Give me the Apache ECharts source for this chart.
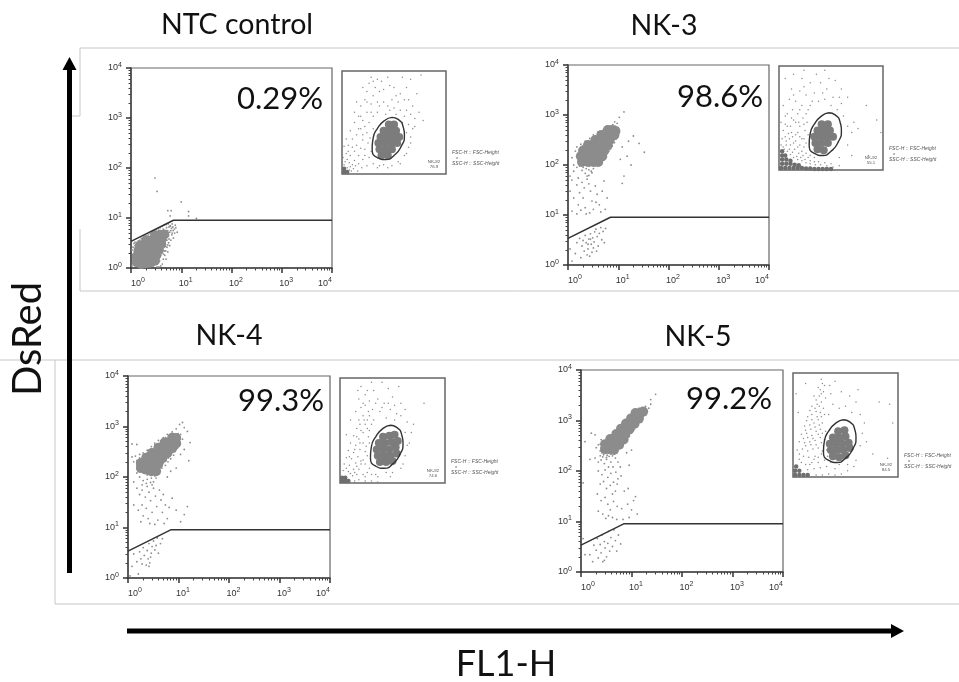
<!DOCTYPE html>
<html><head><meta charset="utf-8"><style>html,body{margin:0;background:#fff}#c{width:959px;height:682px;filter:blur(0.4px)}</style>
<script src="https://cdn.jsdelivr.net/npm/echarts@6/dist/echarts.min.js"></script></head><body><div id="c"></div>
<script>
const sampleNames=['NTC control','NK-3','NK-4','NK-5'];
const positivePercent=['0.29%','98.6%','99.3%','99.2%'];
const lymphocyteGatePercent=['76.9','55.1','74.6','84.5'];
const minorTicks=[2,3,4,5,6,7,8,9,20,30,40,50,60,70,80,90,200,300,400,500,600,700,800,900,2000,3000,4000,5000,6000,7000,8000,9000];
const dsRedGate=[[1,3.4],[7,9],[10000,9]];
const scatterGate=[[48,55],[54,53],[59,45],[60,38],[57,27],[50,18],[42,14],[34,16],[29,24],[30,35],[34,44],[41,52],[48,55]];

const ntcCore=[[1.3,1.3],[1.6,1.2],[2,1.25],[2.5,1.3],[3,1.4],[1.3,1.7],[1.7,1.7],[2.1,1.7],[2.6,1.7],[3.2,1.8],[1.4,2.2],[1.8,2.3],[2.3,2.2],[2.9,2.2],[3.6,2.3],[1.5,2.8],[2,2.9],[2.6,2.9],[3.3,2.9],[4,3],[2,3.6],[2.7,3.7],[3.4,3.7],[4.1,3.8],[3,4.4],[3.8,4.6],[4.6,4.7]];
const ntcDots=[[1.05,1.1],[1.1,2.6],[1.15,3.1],[1.2,3.3],[1.3,3.2],[1.1,1.5],[1.4,3.5],[1.5,3.6],[1.6,3.9],[1.7,3.6],[1.9,4.2],[2,4.4],[2.2,4.6],[2.4,4.9],[2.6,5.2],[2.8,5.4],[3,5.6],[3.2,5.8],[3.5,6.1],[3.8,6.4],[4.2,6.8],[4.6,7.2],[5,7.4],[5.5,7.6],[6,7],[6.4,6.2],[6.9,5.6],[7.4,5],[6.5,4.6],[7,4],[5.9,5.2],[5.6,4.4],[6.2,3.6],[5.6,3.2],[5.9,2.8],[5.2,2.6],[5.4,2.1],[4.9,2.2],[4.7,1.8],[5,1.5],[4.4,1.5],[4.2,1.2],[3.9,1.1],[3.6,1.05],[3.3,1.05],[4.8,3],[4.4,2.6],[4.2,3.4],[4.6,3.9],[5.2,3.6],[5,4.6],[5.4,5.6],[4.7,5.3],[4.2,5.4],[3.6,4.9],[7.8,6.4],[8.3,5.2],[7.6,7.2],[6.6,7.6],[2.8,1.1],[2.4,1.05],[1.9,1.05],[1.5,1.02],[3,63],[3.3,34],[10,21],[5.4,14],[6.3,14],[14,13.5],[14,11],[20,9.8],[6,11],[1.2,1.2],[2.1,3.9],[2.9,4.9],[3.7,5.6],[4.4,6],[5.1,6.4],[5.7,6.6],[6.2,5.6],[6.6,5],[5.4,4.9],[5.7,3.8],[5.4,2.9],[4.9,2.7],[4.6,2.2],[4.4,1.9],[3.9,1.8],[3.7,1.4],[3.3,1.25],[4.8,4.2],[4.3,4.1],[6.8,6.6],[7.3,6],[6.1,6.8],[3.9,5.3],[3.3,5.1],[2.4,4.2],[1.8,3.2],[1.2,2.8],[1.1,1.9],[1.05,2.3]];

const nk3Core=[[1.9,115],[2.5,115],[3.2,115],[4,115],[1.8,150],[2.3,150],[3,150],[3.8,150],[4.8,150],[2,195],[2.6,195],[3.3,195],[4.2,195],[5.3,195],[2.5,250],[3.2,250],[4,250],[5,250],[6.2,250],[3.5,315],[4.4,315],[5.5,315],[6.8,315],[4.6,400],[5.7,400],[7,400],[8.4,400],[6.2,500],[7.6,500],[8.8,480]];
const nk3Dots=[[1.2,140],[1.3,100],[1.4,190],[1.5,90],[1.6,170],[1.5,230],[1.8,260],[2,90],[2.3,85],[2.6,80],[2.9,75],[3.2,85],[3.5,95],[3,70],[2.6,62],[2.2,68],[2.4,52],[1.9,78],[4,95],[4.6,105],[5.2,125],[5.6,140],[6,170],[6.5,190],[7,210],[7.6,240],[8.4,280],[9,330],[9.8,380],[10.5,450],[10,560],[9.5,680],[8.5,730],[10.5,900],[13,1150],[7.8,640],[7,600],[5.8,560],[5,500],[4,460],[3.2,400],[2.7,340],[2.2,300],[1.1,60],[12,230],[15,150],[16,300],[20,380],[26,270],[33,180],[18,100],[11,130],[13,60],[12,43],[1.2,50],[1.1,30],[1.3,22],[1.2,12],[1.5,40],[1.7,28],[1.6,16],[1.5,10.5],[1.9,45],[2.1,35],[2,22],[2.2,14],[2.3,10.5],[2.6,42],[2.8,30],[3,19],[3.2,13],[3.5,38],[3.8,26],[4.2,16],[4.5,11.5],[4.8,30],[5.2,48],[6,22],[5.5,13],[2.4,60],[1.6,55],[1.3,75],[1.8,12.5],[2.7,11],[3.6,18],[1.5,2.8],[1.7,3.4],[1.9,2.4],[2,3.1],[2.2,3.9],[2.3,2.8],[2.5,2.1],[2.6,3.3],[2.8,4.2],[2.9,2.6],[3.1,3.5],[3.3,2.9],[3.4,4.6],[3.6,5.2],[3.8,3.7],[4,2.4],[4.2,4.3],[4.5,5.6],[4.7,3.2],[5,4.7],[5.3,2.8],[5.6,5.4],[1.4,1.7],[1.8,1.4],[2.4,1.6],[3,1.8],[3.7,1.9],[1.2,1.2],[2.1,1.9],[2.7,1.5],[2.5,2.6],[2.8,3.3],[3.2,2.2],[1.1,2.1],[1.5,150],[1.6,120],[1.7,200],[1.7,95],[2,100],[2.7,95],[3.5,105],[4.3,125],[4.9,135],[5.6,165],[6.1,200],[6.8,225],[7.2,265],[7.7,300],[8.2,340],[9.2,420],[9.6,500],[8.8,600],[7.5,570],[6,540],[5.2,450],[4.2,420],[3.5,370],[3,310],[2.5,300],[2,240],[2.2,105],[3,100],[3.8,110]];

const nk4Core=[[1.8,150],[2.3,140],[2.9,130],[3.6,130],[1.8,190],[2.4,190],[3.1,185],[4,180],[2.3,240],[3,240],[3.8,240],[4.8,235],[3,300],[3.8,300],[4.8,300],[6,295],[4,380],[5,380],[6.2,380],[7.5,370],[5.3,480],[6.6,480],[8,470],[9,460],[7.5,600],[9,590]];
const nk4Dots=[[1.3,200],[1.4,260],[1.5,170],[1.6,140],[1.5,120],[1.2,250],[1.7,280],[2,300],[2.4,340],[2.9,400],[3.4,470],[4,530],[5,600],[6,700],[7.5,780],[9,900],[10.5,1100],[12,1200],[13,950],[11,700],[12,560],[10,440],[9.5,370],[8.5,320],[8,270],[7,230],[6.2,200],[5.5,170],[4.7,150],[4,125],[3.4,105],[2.9,95],[2.4,90],[2,85],[1.7,100],[1.9,70],[2.3,75],[2.8,78],[3.2,80],[3.6,95],[15,800],[17,480],[13,350],[11,280],[16,210],[9,150],[7,130],[6,100],[1.2,450],[1.5,440],[1.3,80],[1.5,60],[1.7,45],[1.9,55],[1.3,28],[1.6,22],[1.9,28],[2,17],[2.2,40],[2.3,24],[2.5,15],[2.6,50],[2.8,34],[3,20],[3.2,60],[3.5,42],[3.7,26],[3.9,14],[4.2,55],[4.5,35],[4.8,20],[5,45],[5.5,28],[6,15],[6.5,25],[7.5,38],[9,22],[11,13],[13,18],[15,26],[2.4,65],[3,70],[1.8,13],[2.7,12],[3.4,11.5],[5.2,12],[1.2,1.7],[1.3,3],[1.5,2.1],[1.7,3.3],[1.8,2.4],[1.9,1.9],[2,4],[2.1,2.8],[2.3,1.8],[2.4,3.5],[2.5,2.4],[2.6,4.8],[2.7,2],[2.9,3.1],[3,4.2],[3.2,5.4],[3.4,3.6],[3.6,4.4],[3.8,6.2],[4,3.1],[4.4,4.8],[4.8,6],[1.1,1.1],[1.6,1.2],[2.6,1.7],[2.8,2.6],[1.5,210],[1.6,180],[1.7,240],[2,270],[2.4,300],[2.8,350],[3.4,430],[4,460],[4.8,540],[5.6,600],[6.6,640],[8,680],[9.8,720],[10.2,600],[10,520],[9.6,430],[8.9,380],[8,330],[7,290],[6.3,240],[5.6,210],[5,190],[4.2,150],[3.6,120],[3,110],[2.4,110],[2,120],[1.7,130]];

const nk5Core=[[3,270],[3.7,270],[4.5,260],[3,340],[3.8,340],[4.7,340],[5.7,330],[3.8,430],[4.8,430],[6,430],[7,420],[5,540],[6.2,540],[7.6,540],[6.2,690],[7.6,690],[9.2,680],[7.8,870],[9.4,870],[11.5,860],[9.8,1100],[12,1100],[14,1090],[12,1400],[15,1400],[17,1500]];
const nk5Dots=[[2.4,200],[2.6,230],[2.8,210],[3.3,205],[3.9,215],[4.5,220],[5.2,250],[5.9,280],[6.6,300],[7.4,360],[8.2,430],[9,480],[10,560],[11.5,680],[13,800],[15,980],[17,1200],[19,1500],[22,1750],[24,2100],[19,1900],[14,1750],[11,1500],[8.5,1150],[7,900],[5.5,720],[4.3,590],[3.4,480],[2.5,420],[2.2,330],[2,290],[1.9,520],[1.6,560],[30,3300],[24,2600],[10,260],[8,230],[9,130],[1.9,180],[2.2,150],[2.5,165],[2.9,140],[3.2,170],[3.5,120],[3.9,150],[4.3,120],[4.8,180],[5.4,150],[6,120],[2.2,100],[2.6,85],[3,105],[3.4,75],[3.9,90],[4.4,60],[4.9,95],[5.4,70],[6.2,80],[2.4,55],[2.8,62],[3.2,45],[3.8,52],[4.2,35],[4.8,40],[5.2,55],[7.2,40],[8.6,45],[2.1,35],[2.5,26],[3,30],[3.4,22],[3.8,17],[4.4,25],[5.2,20],[6.4,18],[8.4,22],[10,17],[11,26],[13,14],[9,12],[12,31],[2.2,16],[2.7,14],[3.1,11.5],[3.5,13],[4.2,12],[5.1,11],[6.8,11],[1.5,170],[1.2,380],[1.1,58],[1.5,2.2],[1.7,1.6],[1.8,3.4],[2,2.7],[2.1,4.6],[2.2,1.9],[2.4,3.5],[2.5,2.4],[2.6,5.4],[2.7,1.6],[2.9,4],[3,3],[3.2,2],[3.4,3.7],[3.5,6.4],[3.7,2.6],[3.9,4.8],[4.2,3.2],[4.5,6.8],[4.8,4.2],[5.1,2.6],[5.5,5.4],[6.1,3.6],[1.2,2.2],[1.1,4.6],[2.9,1.7],[2.5,290],[2.4,250],[2.8,240],[3.4,235],[4.2,240],[5,290],[6,340],[7,380],[8,450],[8.8,560],[10,640],[11.5,780],[13,950],[15,1150],[17,1300],[18,1650],[15,1700],[12,1600],[10,1300],[8.3,1000],[6.8,800],[5.4,640],[4.4,520],[3.5,440],[2.7,380],[2.4,340],[2.7,190],[3.2,185],[3.6,195],[4.2,200]];

const ntcScatterCore=[[38,18],[44,18],[36,24],[42,24],[48,24],[35,30],[41,30],[47,30],[53,30],[37,36],[43,36],[49,36],[55,36],[40,42],[46,42],[52,42],[45,48],[50,48]];
const ntcScatterBase=[[2,2],[5,2],[2,5]];
const ntcScatter=[[1,2],[2,5],[3,1],[4,3],[5,6],[2,9],[6,2],[7,4],[3,12],[8,7],[9,3],[5,14],[10,9],[1,16],[11,5],[13,8],[7,11],[4,20],[2,27],[15,3],[12,13],[8,18],[12,22],[6,28],[10,34],[14,28],[16,18],[18,25],[14,38],[8,42],[20,33],[18,44],[22,24],[24,40],[12,50],[16,56],[20,52],[24,60],[18,66],[22,72],[14,70],[24,80],[28,68],[30,76],[26,88],[32,84],[28,94],[34,92],[36,80],[34,70],[30,56],[26,50],[30,44],[25,30],[20,14],[24,8],[30,10],[36,8],[22,18],[40,9],[48,8],[54,12],[60,18],[64,26],[66,36],[68,44],[64,48],[60,56],[66,58],[70,54],[56,62],[52,58],[46,62],[42,58],[40,70],[48,72],[54,70],[60,72],[56,78],[50,84],[62,84],[68,66],[74,60],[78,52],[44,94],[58,94],[66,92],[76,96],[72,78],[16,10],[19,6],[26,16],[28,22],[20,38],[22,46],[27,35],[16,44],[10,26],[4,34],[6,22],[12,60],[18,56],[28,60],[24,70],[20,84],[34,60],[36,66],[44,66],[50,64],[58,50],[62,40],[66,30],[62,20],[56,10],[44,6],[34,6],[62,62],[52,76],[46,86],[40,82],[38,90],[30,90],[64,72],[70,46]];
const nk3ScatterCore=[[37,20],[43,19],[35,26],[41,26],[47,26],[34,32],[40,32],[46,32],[52,32],[37,38],[43,38],[49,38],[41,44],[47,44]];
const nk3ScatterBase=[[2,2],[6,2],[10,2],[14,2],[18,2],[22,2],[26,1.5],[30,1.5],[34,1],[38,1],[42,1],[46,1],[50,1],[3,6],[7,6],[11,6],[15,5],[19,4.5],[3,10],[7,10],[11,9],[3,14],[6,14],[3,18]];
const nk3Scatter=[[2,24],[5,20],[8,18],[11,15],[14,12],[18,10],[22,9],[26,7],[30,6],[35,5],[40,5],[46,4],[52,3],[58,4],[3,30],[7,28],[11,24],[15,20],[19,16],[23,14],[28,12],[16,28],[20,24],[24,22],[4,38],[9,35],[13,32],[18,36],[22,30],[26,26],[2,46],[6,44],[11,42],[16,46],[20,42],[25,38],[8,54],[13,58],[18,54],[23,50],[27,46],[4,62],[10,68],[16,66],[22,62],[28,58],[12,78],[20,76],[26,72],[6,88],[14,92],[22,88],[30,84],[24,96],[34,74],[38,66],[44,68],[50,62],[56,58],[60,64],[52,70],[46,78],[40,84],[36,92],[44,96],[54,86],[60,78],[66,70],[62,52],[66,42],[72,46],[70,36],[76,40],[66,24],[58,12],[70,14],[86,14],[84,62],[94,48],[98,36],[4,22],[7,24],[10,20],[13,17],[17,13],[21,12],[25,10],[30,9],[34,8],[38,8],[44,7],[50,6],[6,32],[10,30],[14,26],[18,22],[22,18],[26,16],[30,14],[34,12],[12,36],[16,34],[20,32],[24,30],[28,34],[8,42],[14,48],[19,46],[24,44],[6,52],[12,50],[20,58],[26,54],[30,62],[14,72],[24,80],[32,66],[42,74],[48,88],[58,70]];
const nk4ScatterCore=[[38,20],[44,20],[50,21],[36,26],[42,26],[48,26],[54,28],[35,32],[41,32],[47,32],[53,34],[37,38],[43,38],[49,39],[55,40],[41,44],[47,45],[52,46]];
const nk4ScatterBase=[[2,2],[5,2],[8,2],[2,5],[5,5]];
const nk4Scatter=[[14,2],[18,3],[24,2],[30,2],[36,1],[3,12],[8,11],[12,7],[16,8],[4,18],[9,17],[13,13],[18,13],[22,8],[6,24],[11,23],[15,19],[20,18],[26,10],[34,8],[8,31],[13,29],[17,25],[22,22],[26,26],[10,38],[15,36],[19,32],[24,30],[13,45],[18,42],[22,38],[27,44],[16,52],[20,50],[24,56],[28,50],[18,60],[22,64],[26,60],[30,56],[15,68],[20,72],[24,74],[27,68],[18,80],[24,84],[28,78],[32,88],[20,92],[30,96],[36,80],[38,68],[44,62],[42,76],[48,70],[54,66],[50,82],[46,90],[56,92],[58,76],[62,70],[64,58],[68,48],[66,38],[62,26],[58,14],[48,6],[44,10],[70,56],[80,76],[10,60],[6,46],[40,96],[52,60],[10,9],[14,10],[6,14],[16,16],[20,21],[24,18],[28,14],[9,25],[14,32],[19,38],[25,35],[28,38],[16,44],[22,48],[26,52],[19,56],[23,60],[28,64],[31,70],[22,76],[26,88],[34,76],[40,72],[46,76],[52,74],[58,64],[62,48],[64,36],[60,18],[50,10],[36,6],[30,8],[24,6],[17,88],[32,60]];
const nk5ScatterCore=[[38,20],[44,19],[50,21],[36,26],[42,26],[48,26],[54,28],[35,32],[41,32],[47,32],[53,33],[38,38],[44,38],[50,39],[43,44],[49,45]];
const nk5ScatterBase=[[2,2],[6,2],[10,2],[14,2],[2,6],[6,6],[3,10]];
const nk5Scatter=[[22,2],[28,2],[34,3],[40,2],[46,3],[14,7],[20,8],[26,9],[32,10],[40,8],[12,12],[18,14],[24,14],[30,16],[6,17],[10,20],[15,19],[21,20],[27,22],[33,20],[4,26],[9,27],[14,25],[19,27],[24,28],[29,30],[6,34],[11,33],[16,34],[21,35],[26,38],[30,36],[8,41],[13,42],[18,40],[22,44],[26,46],[31,44],[11,49],[16,50],[20,52],[24,55],[28,52],[14,58],[18,60],[22,63],[26,62],[30,60],[18,68],[23,70],[27,72],[25,78],[29,82],[24,86],[28,90],[31,76],[27,94],[20,78],[35,88],[38,70],[44,66],[50,68],[56,62],[60,72],[54,78],[46,82],[40,92],[62,84],[64,60],[68,52],[66,42],[64,30],[70,34],[60,16],[52,6],[76,22],[90,18],[95,52],[92,70],[82,72],[5,62],[3,80],[12,90],[6,22],[8,14],[16,12],[20,17],[24,19],[28,25],[32,26],[12,30],[17,31],[22,31],[27,33],[10,37],[14,38],[19,37],[24,41],[28,42],[12,45],[17,46],[21,48],[25,50],[13,54],[18,55],[23,58],[27,58],[16,64],[21,66],[25,68],[29,66],[22,74],[27,80],[30,88],[26,84],[36,80],[34,60],[36,14],[44,12],[52,12],[58,10]];

const mainCores=[ntcCore,nk3Core,nk4Core,nk5Core];
const mainDots=[ntcDots,nk3Dots,nk4Dots,nk5Dots];
const insetCores=[ntcScatterCore,nk3ScatterCore,nk4ScatterCore,nk5ScatterCore];
const insetBases=[ntcScatterBase,nk3ScatterBase,nk4ScatterBase,nk5ScatterBase];
const insetDots=[ntcScatter,nk3Scatter,nk4Scatter,nk5Scatter];

const mainBoxes=[[131,68,201,200],[568,65,201,200],[128,376,202,202],[581,370,202,202]];
const insetBoxes=[[342,71,104,103],[779,66,104,104],[340,378,105,105],[793,373,105,104]];
const titlePos=[[237,25],[664,26],[229,336],[698,337]];
const pctPos=[[280,99],[720,97],[281,401],[729,399]];

const grid=[],xAxis=[],yAxis=[],series=[];
const sup=v=>Math.round(Math.log10(v));
const uiFont='Lato';
mainBoxes.forEach((b,i)=>{
 grid.push({left:b[0],top:b[1],width:b[2],height:b[3],show:true,borderColor:'#666',borderWidth:1.2,backgroundColor:'transparent'});
 const base={type:'log',logBase:10,min:1,max:10000,gridIndex:i,splitLine:{show:false},axisLine:{onZero:false,lineStyle:{color:'#444',width:1.5}}};
 const lab={rich:{b:{fontSize:9,color:'#333',fontFamily:'Liberation Sans'},s:{fontSize:7,color:'#333',fontFamily:'Liberation Sans',padding:[0,0,6,0]},p:{width:9}}};
 xAxis.push({...base,position:'bottom',axisTick:{length:5,lineStyle:{color:'#333',width:1.5}},axisLabel:{margin:9,alignMinLabel:'left',alignMaxLabel:'right',...lab,formatter:v=>(v>1&&v<10000?'{p|}':'')+'{b|10}{s|'+sup(v)+'}'}});
 xAxis.push({...base,position:'bottom',axisLine:{show:false},axisLabel:{show:false},axisTick:{length:2.5,customValues:minorTicks,lineStyle:{color:'#444',width:1}}});
 yAxis.push({...base,position:'left',axisTick:{length:5,lineStyle:{color:'#333',width:1.5}},axisLabel:{margin:9,...lab,formatter:v=>'{b|10}{s|'+sup(v)+'}'}});
 yAxis.push({...base,position:'left',axisLine:{show:false},axisLabel:{show:false},axisTick:{length:2.5,customValues:minorTicks,lineStyle:{color:'#444',width:1}}});
 const ax=xAxis.length-2,ay=yAxis.length-2;
 series.push({type:'scatter',xAxisIndex:ax,yAxisIndex:ay,data:mainCores[i],symbolSize:10,itemStyle:{color:'#8c8c8c',opacity:1},silent:true});
 series.push({type:'scatter',xAxisIndex:ax,yAxisIndex:ay,data:mainDots[i],symbolSize:1.8,itemStyle:{color:'#8c8c8c',opacity:1},silent:true});
 series.push({type:'line',xAxisIndex:ax,yAxisIndex:ay,data:dsRedGate,symbol:'none',lineStyle:{color:'#333',width:1.5},silent:true,z:5});
});
insetBoxes.forEach((b,i)=>{
 const g=grid.length;
 grid.push({left:b[0],top:b[1],width:b[2],height:b[3],show:true,borderColor:'#666',borderWidth:1.5,backgroundColor:'transparent'});
 xAxis.push({type:'value',gridIndex:g,min:0,max:100,show:false});
 yAxis.push({type:'value',gridIndex:g,min:0,max:100,show:false});
 const ax=xAxis.length-1,ay=yAxis.length-1;
 series.push({type:'scatter',xAxisIndex:ax,yAxisIndex:ay,data:insetDots[i],symbolSize:1.5,itemStyle:{color:'#8c8c8c',opacity:1},silent:true});
 series.push({type:'scatter',xAxisIndex:ax,yAxisIndex:ay,data:insetBases[i],symbolSize:4.5,itemStyle:{color:'#6e6e6e',opacity:1},silent:true});
 series.push({type:'scatter',xAxisIndex:ax,yAxisIndex:ay,data:insetCores[i],symbolSize:8,itemStyle:{color:'#7c7c7c',opacity:1},silent:true});
 series.push({type:'line',xAxisIndex:ax,yAxisIndex:ay,data:scatterGate,smooth:0.6,symbol:'none',lineStyle:{color:'#333',width:1.4},silent:true,z:5});
});
const txt=(x,y,t,fs,o={})=>({type:'text',x,y,silent:true,style:{text:t,fontSize:fs,fontFamily:uiFont,fill:'#111',align:'center',verticalAlign:'middle',...o}});
const panelLine=[[[72,116],[80,116],[80,48],[959,48]],[[80,229],[80,291],[959,291]],[[0,360],[959,360]],[[55,360],[55,604],[959,604]]];
const graphic=[];
panelLine.forEach(p=>graphic.push({type:'polyline',silent:true,z:-1,shape:{points:p},style:{stroke:'#c6c6c6',lineWidth:1,fill:null}}));
graphic.push({type:'line',silent:true,shape:{x1:69.5,y1:573,x2:69.5,y2:68},style:{stroke:'#000',lineWidth:5}});
graphic.push({type:'polygon',silent:true,shape:{points:[[62.5,70],[76.5,70],[69.5,57]]},style:{fill:'#000'}});
graphic.push({type:'line',silent:true,shape:{x1:127,y1:631,x2:893,y2:631},style:{stroke:'#000',lineWidth:5}});
graphic.push({type:'polygon',silent:true,shape:{points:[[891,624],[891,638],[904,631]]},style:{fill:'#000'}});
graphic.push(txt(506,664,'FL1-H',36));
graphic.push({type:'text',silent:true,x:28,y:339,rotation:Math.PI/2,style:{text:'DsRed',fontSize:40,fontFamily:uiFont,fill:'#111',align:'center',verticalAlign:'middle'}});
sampleNames.forEach((n,i)=>{
 graphic.push(txt(titlePos[i][0],titlePos[i][1],n,28.5));
 graphic.push(txt(pctPos[i][0],pctPos[i][1],positivePercent[i],31));
 const b=insetBoxes[i],r=b[0]+b[2],bt=b[1]+b[3];
 const sm={fill:'#555',fontFamily:'Liberation Sans'};
 graphic.push(txt(r-12,bt-12,'NK-92',4.4,sm));
 graphic.push(txt(r-12,bt-7,lymphocyteGatePercent[i],4.4,sm));
 const it={...sm,align:'left',fontStyle:'italic'};
 graphic.push(txt(r+6,bt-21,'FSC-H :: FSC-Height',5,it));
 graphic.push(txt(r+10,bt-16,'x',4.4,it));
 graphic.push(txt(r+6,bt-10,'SSC-H :: SSC-Height',5,it));
});
echarts.init(document.getElementById('c'),null,{renderer:'canvas'}).setOption({animation:false,grid,xAxis,yAxis,series,graphic});
</script></body></html>
